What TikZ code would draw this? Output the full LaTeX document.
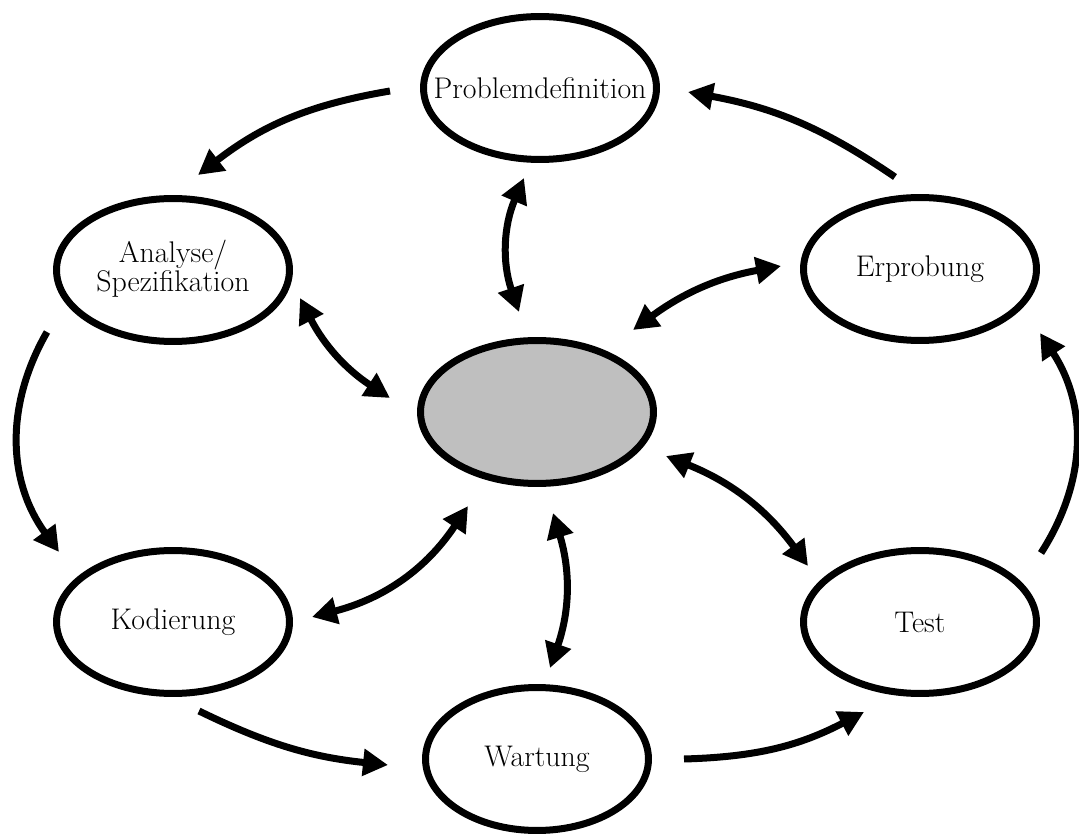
\documentclass[tikz,border=0pt]{standalone}
\usetikzlibrary{arrows.meta,shapes.geometric}
\definecolor{hubgray}{RGB}{191,191,191}
\begin{document}
\begin{tikzpicture}[x=0.02cm,y=0.02cm,
  phase/.style={ellipse,draw,line width=0.14cm,inner sep=0pt,
    minimum width=4.66cm,minimum height=2.86cm,
    font=\fontsize{17}{16.5}\selectfont},
  flow/.style={line width=0.14cm,-{Triangle[length=0.5cm,width=0.52cm]}},
  link/.style={line width=0.14cm,{Triangle[length=0.5cm,width=0.52cm]}-{Triangle[length=0.5cm,width=0.52cm]}}]
\useasboundingbox (0,0) rectangle (1079,-834);

% phases of the cycle
\node[phase] (pd) at (540,-88)  {\makebox[0pt]{Problemdefinition}};
\node[phase] (er) at (920,-269) {\makebox[0pt]{Erprobung}};
\node[phase] (an) at (173,-270) {\makebox[0pt]{\raisebox{-3pt}{\begin{tabular}{@{}c@{}}Analyse/\\Spezifikation\end{tabular}}}};
\node[phase,fill=hubgray] (ce) at (537,-412) {};
\node[phase] (ko) at (173,-622) {\makebox[0pt]{Kodierung}};
\node[phase] (te) at (920,-622) {\makebox[0pt]{Test}};
\node[phase,minimum width=4.46cm] (wa) at (537,-759) {\makebox[0pt]{Wartung}};

% outer cycle
\draw[flow] ([shift={(-150,-3)}]pd.center) to[bend right=14] ([shift={(25,95)}]an.center);
\draw[flow] ([shift={(-126,-62)}]an.center) to[bend right=33] ([shift={(-114,70)}]ko.center);
\draw[flow] ([shift={(26,-89)}]ko.center) to[bend right=10] ([shift={(-149,-6)}]wa.center);
\draw[flow] ([shift={(147,0)}]wa.center) to[bend right=13] ([shift={(-56,-90)}]te.center);
\draw[flow] ([shift={(121,69)}]te.center) to[bend right=33] ([shift={(120,-64)}]er.center);
\draw[flow] ([shift={(-25,92)}]er.center) to[bend right=12] ([shift={(148,-4)}]pd.center);

% links to the hub
\draw[link] ([shift={(-16,-90)}]pd.center) to[bend right=21] ([shift={(-18,100)}]ce.center);
\draw[link] ([shift={(127,-28)}]an.center) to[bend right=15] ([shift={(-147,14)}]ce.center);
\draw[link] ([shift={(-139,3)}]er.center) to[bend right=13] ([shift={(96,82)}]ce.center);
\draw[link] ([shift={(139,5)}]ko.center) to[bend right=21] ([shift={(-69,-94)}]ce.center);
\draw[link] ([shift={(16,-101)}]ce.center) to[bend left=18] ([shift={(13,91)}]wa.center);
\draw[link] ([shift={(129,-44)}]ce.center) to[bend left=16] ([shift={(-112,56)}]te.center);
\end{tikzpicture}
\end{document}
